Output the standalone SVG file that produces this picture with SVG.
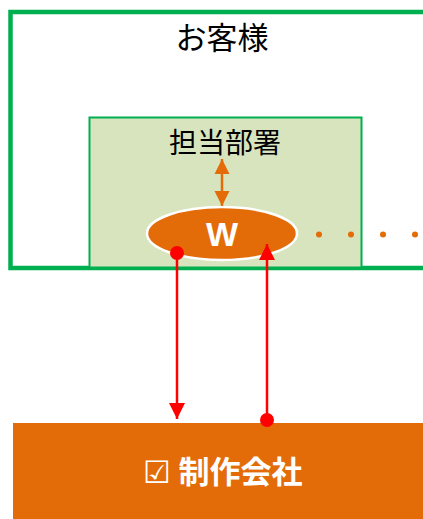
<svg xmlns="http://www.w3.org/2000/svg" width="423" height="519" viewBox="0 0 423 519">
<style>
.jp{font-family:"Noto Sans CJK JP","Noto Sans",sans-serif;}
.red{stroke:#FF0000;stroke-width:2.5;fill:none}
</style>
<defs>
<marker id="redArr" viewBox="0 0 10 10" refX="10" refY="5" markerWidth="16" markerHeight="16" markerUnits="userSpaceOnUse" orient="auto"><path d="M0,0 L10,5 L0,10 Z" fill="#FF0000"/></marker>
<marker id="redDot" viewBox="0 0 10 10" refX="5" refY="5" markerWidth="14" markerHeight="14" markerUnits="userSpaceOnUse"><circle cx="5" cy="5" r="5" fill="#FF0000"/></marker>
<marker id="orArr" viewBox="0 0 10 10" refX="10" refY="5" markerWidth="15" markerHeight="16" markerUnits="userSpaceOnUse" orient="auto-start-reverse"><path d="M0,0 L10,5 L0,10 Z" fill="#E36C09"/></marker>
</defs>
<rect width="423" height="519" fill="#FFFFFF"/>
<g id="customer">
<rect x="10.5" y="12" width="430" height="256" fill="#FFFFFF" stroke="#00B050" stroke-width="4.5"/>
<text x="222" y="49" class="jp" font-size="31" text-anchor="middle" fill="#000000">お客様</text>
</g>
<g id="department">
<rect x="89.5" y="117.5" width="272" height="150" fill="#D8E4BD" stroke="#00B050" stroke-width="2"/>
<text x="225" y="153" class="jp" font-size="28" text-anchor="middle" fill="#000000">担当部署</text>
</g>
<g id="w">
<ellipse cx="222" cy="233.5" rx="75" ry="26.5" fill="#E36C09" stroke="#FFFFFF" stroke-width="2.5"/>
<text x="222" y="246" font-family="Liberation Sans, Arial, sans-serif" font-weight="bold" font-size="34" text-anchor="middle" fill="#FFFFFF">W</text>
</g>
<g id="dots" fill="#E36C09">
<circle cx="319" cy="234.5" r="3"/>
<circle cx="351" cy="234.5" r="3"/>
<circle cx="383" cy="234.5" r="3"/>
<circle cx="415" cy="234.5" r="3"/>
</g>
<g id="company">
<rect x="13" y="423" width="420" height="100" fill="#E36C09"/>
<text x="223" y="483" class="jp" font-size="31" font-weight="bold" text-anchor="middle" fill="#FFFFFF"><tspan font-weight="normal">☑</tspan> 制作会社</text>
</g>
<g id="connectors">
<line x1="222" y1="159" x2="222" y2="206" stroke="#E36C09" stroke-width="2.5" marker-start="url(#orArr)" marker-end="url(#orArr)"/>
<line x1="177" y1="253" x2="177" y2="419" class="red" marker-start="url(#redDot)" marker-end="url(#redArr)"/>
<line x1="267" y1="420" x2="267" y2="244" class="red" marker-start="url(#redDot)" marker-end="url(#redArr)"/>
</g>
</svg>
